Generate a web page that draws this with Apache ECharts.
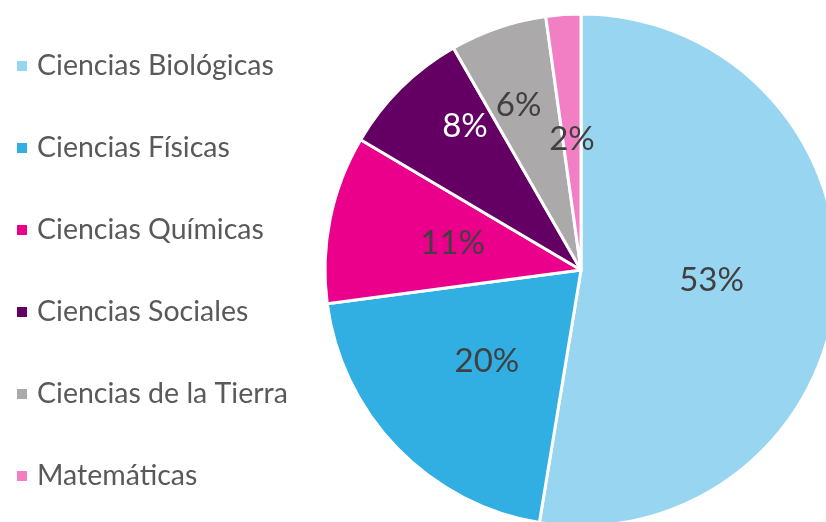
<!DOCTYPE html>
<html>
<head>
<meta charset="utf-8">
<script src="https://cdn.jsdelivr.net/npm/echarts@6/dist/echarts.min.js"></script>
<style>
  html, body { margin: 0; padding: 0; background: #fff; }
  #chart { width: 826px; height: 522px; }
</style>
</head>
<body>
<div id="chart"></div>
<script>
// areas (clockwise from 12 o'clock)
const areas = ['Ciencias Biológicas', 'Ciencias Físicas', 'Ciencias Químicas', 'Ciencias Sociales', 'Ciencias de la Tierra', 'Matemáticas']
const shares = [52.6, 20.3, 10.6, 8.2, 6.1, 2.2]
const colors = ['#97d5f1', '#31aee2', '#ea008b', '#640064', '#aba9a9', '#f27ec4']
const labelColors = ['#404040', '#404040', '#404040', '#ffffff', '#404040', '#404040']
const labelOffsets = [[0, 0], [0, 0], [0, 0], [-24, -50], [-20, -41], [0, 0]]

const chart = echarts.init(document.getElementById('chart'))

const option = {
  animation: false,
  color: colors,
  legend: {
    orient: 'vertical',
    left: 10,
    top: 46,
    itemWidth: 12,
    itemHeight: 12,
    itemGap: 52,
    icon: 'rect',
    textStyle: {
      fontFamily: 'Lato',
      fontSize: 28.5,
      lineHeight: 30,
      color: '#595959',
      padding: [0, 0, 0, 4]
    },
    data: areas
  },
  series: [
    {
      type: 'pie',
      center: [581, 270],
      radius: 256,
      startAngle: 90,
      clockwise: true,
      percentPrecision: 0,
      itemStyle: {
        borderColor: '#fff',
        borderWidth: 3
      },
      label: {
        position: 'inside',
        formatter: '{d}%',
        fontFamily: 'Lato',
        fontSize: 33
      },
      labelLine: { show: false },
      emphasis: { disabled: true },
      data: areas.map((name, i) => ({
        name: name,
        value: shares[i],
        label: { color: labelColors[i], offset: labelOffsets[i] }
      }))
    }
  ]
}

chart.setOption(option)
</script>
</body>
</html>
